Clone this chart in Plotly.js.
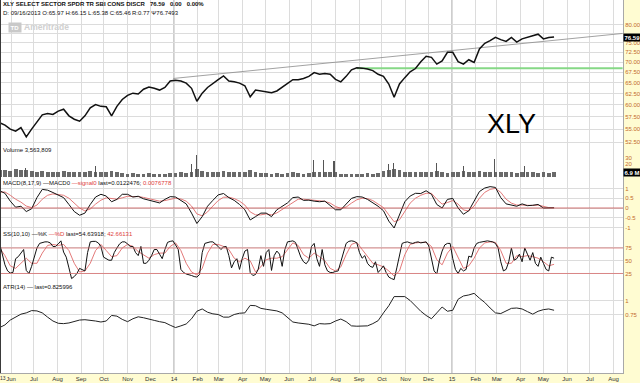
<!DOCTYPE html>
<html><head><meta charset="utf-8">
<script src="https://cdn.plot.ly/plotly-3.0.1.min.js"></script>
<style>html,body{margin:0;padding:0;background:#fff}#chart{width:640px;height:383px}</style>
</head><body><div id="chart"></div>
<script>
// ---------- DATA ----------
const weekDates = [
'2013-05-17','2013-05-24','2013-05-31','2013-06-07','2013-06-14','2013-06-21','2013-06-28','2013-07-05','2013-07-12','2013-07-19',
'2013-07-26','2013-08-02','2013-08-09','2013-08-16','2013-08-23','2013-08-30','2013-09-06','2013-09-13','2013-09-20','2013-09-27',
'2013-10-04','2013-10-11','2013-10-18','2013-10-25','2013-11-01','2013-11-08','2013-11-15','2013-11-22','2013-11-29','2013-12-06',
'2013-12-13','2013-12-20','2013-12-27','2014-01-03','2014-01-10','2014-01-17','2014-01-24','2014-01-31','2014-02-07','2014-02-14',
'2014-02-21','2014-02-28','2014-03-07','2014-03-14','2014-03-21','2014-03-28','2014-04-04','2014-04-11','2014-04-18','2014-04-25',
'2014-05-02','2014-05-09','2014-05-16','2014-05-23','2014-05-30','2014-06-06','2014-06-13','2014-06-20','2014-06-27','2014-07-04',
'2014-07-11','2014-07-18','2014-07-25','2014-08-01','2014-08-08','2014-08-15','2014-08-22','2014-08-29','2014-09-05','2014-09-12',
'2014-09-19','2014-09-26','2014-10-03','2014-10-10','2014-10-17','2014-10-24','2014-10-31','2014-11-07','2014-11-14','2014-11-21',
'2014-11-28','2014-12-05','2014-12-12','2014-12-19','2014-12-26','2015-01-02','2015-01-09','2015-01-16','2015-01-23','2015-01-30',
'2015-02-06','2015-02-13','2015-02-20','2015-02-27','2015-03-06','2015-03-13','2015-03-20','2015-03-27','2015-04-03','2015-04-10',
'2015-04-17','2015-04-24','2015-05-01','2015-05-08','2015-05-15'];

const priceClose = [
56.3,55.8,55.0,54.6,55.3,53.5,55.0,56.4,57.9,58.2,
58.0,58.7,59.1,57.7,57.0,56.6,57.7,59.4,60.1,59.7,
59.6,57.7,59.7,61.2,62.1,62.6,62.4,63.5,64.0,63.7,
63.3,63.9,65.4,65.6,65.4,64.9,63.7,60.8,62.6,63.9,
64.9,65.7,66.6,65.4,65.2,64.9,64.3,61.8,63.3,63.1,
62.9,62.7,63.1,63.9,64.9,65.7,65.7,66.0,66.5,67.4,
67.0,67.2,67.0,65.8,65.2,66.5,68.1,68.6,68.5,68.3,
67.9,67.0,66.5,64.7,61.7,64.7,66.2,67.6,68.4,70.1,
71.5,71.2,69.5,70.3,72.5,72.5,70.1,69.5,70.6,69.9,
73.4,74.9,75.6,76.5,75.9,75.4,76.5,75.2,76.1,76.5,
76.8,77.4,76.1,76.5,76.59];

const volumeM = [
11,12,10,13,11,12,10, 9,10,9,8,9,10,9, 8,9,8,10,9,8,9,10,8,
7,6,7,6,6,7,6,5,6,7, 7,8,7,9,13, 10,9,8,9,10,8,9,8,9,11,
8,7,7,6,7,6,7,8,7,6,7,8, 9,8,9,8, 6,6,5,6,6,7,6,7, 10,12,13,11,9,
8,9,8,8,9,10,9,7,8,9,10,9,8,10,9,8, 9,8,9,8,7,8,9,8,7,8,7,8];

const spikeDates = ['2013-06-20','2013-09-20','2014-01-24','2014-01-31','2014-07-03','2014-07-16','2014-07-30',
'2014-10-10','2014-10-16','2014-12-12','2015-01-16','2015-02-26','2015-04-06'];
const spikeVolM = [15,17,20,34,27,27,25,20,22,22,17,28,17];

const macdLine = [
0.88,0.75,0.35,0.04,0.09,-0.18,-0.04,0.53,0.95,0.91,
0.79,0.67,0.53,0.18,-0.18,-0.37,-0.26,0.18,0.56,0.70,
0.61,0.32,0.44,0.70,0.70,0.56,0.60,0.47,0.39,0.32,
0.26,0.44,0.58,0.56,0.39,0.21,-0.26,-0.79,-0.44,0.09,
0.39,0.67,0.74,0.53,0.39,0.18,-0.09,-0.61,-0.44,-0.26,
-0.26,-0.44,-0.09,0.09,0.26,0.53,0.56,0.39,0.40,0.35,
0.32,0.35,0.14,-0.09,-0.09,0.18,0.49,0.58,0.56,0.44,
0.26,0.09,-0.14,-0.67,-1.02,-0.35,0.32,0.61,0.75,0.74,
0.88,0.70,0.18,0.00,0.44,0.49,0.00,-0.32,-0.14,0.35,
0.84,1.02,1.09,1.05,0.53,0.21,0.14,0.09,0.21,0.12,
0.14,0.18,0.00,0.00,0.01];

const macdSignal = [
0.80,0.82,0.65,0.45,0.30,0.10,0.02,0.15,0.45,0.65,
0.72,0.70,0.65,0.50,0.25,0.00,-0.15,-0.05,0.20,0.40,
0.52,0.48,0.45,0.52,0.60,0.58,0.58,0.54,0.48,0.42,
0.35,0.38,0.45,0.50,0.46,0.35,0.10,-0.30,-0.40,-0.20,
0.10,0.38,0.55,0.55,0.48,0.35,0.15,-0.20,-0.35,-0.35,
-0.30,-0.35,-0.25,-0.08,0.10,0.30,0.45,0.45,0.42,0.38,
0.35,0.34,0.25,0.08,-0.02,0.05,0.25,0.42,0.50,0.48,
0.38,0.22,0.02,-0.35,-0.70,-0.60,-0.15,0.25,0.50,0.65,
0.75,0.75,0.45,0.20,0.28,0.38,0.20,-0.10,-0.15,0.10,
0.50,0.80,0.95,1.00,0.80,0.45,0.25,0.15,0.15,0.13,
0.13,0.15,0.08,0.02,0.01];

// %K read twice a week (Friday, then the following Tuesday)
const ssK = [
84,61,42,30,26,27,54,58,66,72, 31,25,39,60,75,84,86,87,87,85,
78,78,83,89,67,57,36,15,19,25, 35,32,30,66,87,88,88,85,78,57,
54,51,51,66,75,83,87,87,83,78, 78,66,60,78,45,45,51,60,72,72,
63,54,72,86,88,89,81,72,33,27, 24,23,21,19,18,23,66,84,86,87,
87,83,78,72,77,78,60,36,48,54, 33,54,69,72,27,21,23,33,60,39,
66,72,31,60,69,63,39,72,87,88, 89,86,72,57,48,44,51,78,84,54,
39,72,42,30,27,27,29,30,48,66, 84,88,89,88,85,66,55,60,45,39,
37,48,27,33,40,27,18,15,13,36, 60,84,86,87,85,84,86,87,85,86,
87,79,57,30,24,51,69,81,84,84, 54,33,25,35,30,33,59,57,75,84,
86,87,88,89,88,87,84,75,48,30, 33,48,75,51,54,63,48,75,63,51,
66,45,39,57,45,33,30,57,55];

const ssD = [
75,60,40,35,45,55,45,45,65,80, 82,80,82,70,45,28,30,45,70,82,
70,58,60,75,82,78,68,62,55,62, 65,65,78,85,70,45,28,22,35,65,
82,82,78,72,55,48,55,50,28,38, 52,55,55,58,72,85,80,62,55,65,
58,50,35,30,38,62,82,86,72,58, 45,42,38,30,20,30,62,82,85,86,
86,78,52,42,65,78,55,35,40,55, 75,85,87,86,70,45,45,60,58,60,
58,55,48,40,43];

const atr = [
0.517,0.564,0.651,0.709,0.756,0.779,0.820,0.814,0.779,0.703,
0.634,0.593,0.587,0.599,0.622,0.651,0.657,0.651,0.634,0.616,
0.634,0.733,0.721,0.663,0.622,0.674,0.709,0.692,0.663,0.645,
0.622,0.605,0.558,0.517,0.547,0.581,0.674,0.808,0.849,0.791,
0.762,0.750,0.703,0.703,0.750,0.773,0.779,0.913,0.907,0.860,
0.843,0.826,0.814,0.779,0.692,0.616,0.599,0.587,0.576,0.547,
0.587,0.581,0.587,0.634,0.669,0.622,0.547,0.541,0.541,0.547,
0.587,0.640,0.779,0.907,1.070,1.070,1.070,1.000,0.895,0.808,
0.733,0.674,0.779,0.884,0.808,0.826,1.023,1.081,1.099,1.128,
1.041,0.965,0.866,0.779,0.767,0.820,0.860,0.866,0.849,0.802,
0.756,0.808,0.837,0.849,0.826];

const trendDates = ['2013-12-31','2015-08-13'];
const trendValues = [66.0, 77.6];
const supportDates = ['2014-08-29','2015-08-13'];
const supportValues = [68.45, 68.45];
const lastPrice = 76.59;
const lastVolumeM = 6.9;

const priceTicks = [52.5,55,57.5,60,62.5,65,67.5,70,72.5,75,77.5,80];
const priceTickText = ['52.50','55.00','57.50','60.00','62.50','65.00','67.50','70.00','72.50','75.00','','80.00'];
const volumeTicks = [10, 20, 30];
const volumeTickText = ['', '20', '30'];
const monthTicks = ['2013-06-01','2013-07-01','2013-08-01','2013-09-01','2013-10-01','2013-11-01','2013-12-01',
'2014-01-01','2014-02-01','2014-03-01','2014-04-01','2014-05-01','2014-06-01','2014-07-01','2014-08-01','2014-09-01','2014-10-01','2014-11-01','2014-12-01',
'2015-01-01','2015-02-01','2015-03-01','2015-04-01','2015-05-01','2015-06-01','2015-07-01','2015-08-01'];
const monthLabels = ['Jun','Jul','Aug','Sep','Oct','Nov','Dec','14','Feb','Mar','Apr','May','Jun','Jul','Aug','Sep','Oct','Nov','Dec',
'15','Feb','Mar','Apr','May','Jun','Jul','Aug'];
const yearLines = ['2014-01-01','2015-01-01'];

// ---------- LAYOUT ----------
const W = 640, H = 383, ML = 0, MR = 17, MT = 0, MB = 10;
const PW = W - ML - MR, PH = H - MT - MB;
const px = x => x / PW;            // pixel -> paper x
const py = y => 1 - y / PH;        // pixel -> paper y
const xRange = ['2013-05-17 12:00', '2015-08-13 12:00'];

// semi-weekly dates for %K: each Friday followed by the next Tuesday
const ssDates = [];
weekDates.forEach((d, i) => {
  ssDates.push(d);
  if (i < weekDates.length - 1) {
    const t = new Date(d + 'T00:00:00Z').getTime() + 3.5 * 86400000;
    ssDates.push(new Date(t).toISOString().slice(0, 16).replace('T', ' '));
  }
});

const RED = '#E06A6A';
const AXC = '#C4692C';
const GRID = '#DCDCDC';
const tf = {family: 'Liberation Sans, Arial, sans-serif', size: 6, color: AXC};
const DAY = 86400000;

const traces = [
  {x: trendDates, y: trendValues, type: 'scatter', mode: 'lines', line: {color: '#8a8a8a', width: 0.8}, xaxis: 'x', yaxis: 'y'},
  {x: supportDates, y: supportValues, type: 'scatter', mode: 'lines', line: {color: '#86D886', width: 2}, xaxis: 'x', yaxis: 'y'},
  {x: weekDates, y: priceClose, type: 'scatter', mode: 'lines', line: {color: '#111', width: 1.5}, xaxis: 'x', yaxis: 'y'},
  {x: weekDates, y: volumeM, type: 'bar', width: 5 * DAY, marker: {color: '#6a6a6a'}, xaxis: 'x', yaxis: 'y2'},
  {x: spikeDates, y: spikeVolM, type: 'bar', width: 1.4 * DAY, marker: {color: '#555'}, xaxis: 'x', yaxis: 'y2'},
  {x: weekDates, y: macdSignal, type: 'scatter', mode: 'lines', line: {color: RED, width: 0.9}, xaxis: 'x', yaxis: 'y3'},
  {x: weekDates, y: macdLine, type: 'scatter', mode: 'lines', line: {color: '#111', width: 1}, xaxis: 'x', yaxis: 'y3'},
  {x: weekDates, y: ssD, type: 'scatter', mode: 'lines', line: {color: RED, width: 0.9}, xaxis: 'x', yaxis: 'y4'},
  {x: ssDates, y: ssK, type: 'scatter', mode: 'lines', line: {color: '#111', width: 1}, xaxis: 'x', yaxis: 'y4'},
  {x: weekDates, y: atr, type: 'scatter', mode: 'lines', line: {color: '#222', width: 1}, xaxis: 'x', yaxis: 'y5'}
];

const yBase = {side: 'right', anchor: 'x', ticks: '', showline: true, linecolor: '#A8A8A8', linewidth: 1,
  gridcolor: GRID, gridwidth: 1, tickfont: tf, zeroline: false, fixedrange: true};

const layout = {
  width: W, height: H,
  margin: {l: ML, r: MR, t: MT, b: MB, pad: 0},
  paper_bgcolor: '#FFFCD2', plot_bgcolor: '#FFFFFF',
  showlegend: false, hovermode: false, barmode: 'overlay', bargap: 0,
  xaxis: {type: 'date', range: xRange, anchor: 'y5', tickvals: monthTicks, ticktext: monthLabels,
    ticks: '', showgrid: true, gridcolor: GRID, showline: true, linecolor: '#A8A8A8',
    tickfont: {family: 'Liberation Sans, Arial, sans-serif', size: 6, color: '#333'}, zeroline: false, fixedrange: true},
  yaxis: Object.assign({}, yBase, {domain: [py(147), 1], type: 'log',
    range: [1.7125, 1.9421], tickvals: priceTicks, ticktext: priceTickText}),
  yaxis2: Object.assign({}, yBase, {domain: [py(178), py(147)], range: [-0.8, 46.2],
    tickvals: volumeTicks, ticktext: volumeTickText, showgrid: false}),
  yaxis3: Object.assign({}, yBase, {domain: [py(231), py(178)], range: [-1.173, 1.531],
    tickvals: [-1, -0.5, 0, 0.5, 1], ticktext: ['-1', '-0.5', '0', '0.5', '1']}),
  yaxis4: Object.assign({}, yBase, {domain: [py(284), py(231)], range: [4.4, 108.3],
    tickvals: [25, 50, 75], ticktext: ['25', '50', '75']}),
  yaxis5: Object.assign({}, yBase, {domain: [0, py(284)], range: [-0.295, 1.295],
    tickvals: [0.75, 1], ticktext: ['0.75', '1']}),
  shapes: [
    ...yearLines.map(d => ({type: 'line', xref: 'x', yref: 'paper', x0: d, x1: d, y0: 0, y1: 1,
      line: {color: '#9a9a9a', width: 1}, layer: 'below'})),
    {type: 'line', xref: 'paper', yref: 'y3', x0: 0, x1: 1, y0: 0, y1: 0, line: {color: '#C85050', width: 0.8}},
    {type: 'line', xref: 'paper', yref: 'y4', x0: 0, x1: 1, y0: 75, y1: 75, line: {color: '#D87070', width: 0.8}},
    {type: 'line', xref: 'paper', yref: 'y4', x0: 0, x1: 1, y0: 25, y1: 25, line: {color: '#D87070', width: 0.8}},
    {type: 'line', xref: 'paper', yref: 'paper', x0: 0, x1: 0, y0: 0, y1: 1, line: {color: '#3a3a3a', width: 2}}
  ],
  annotations: []
};

const small = (t, x, y, opts) => Object.assign({text: t, xref: 'paper', yref: 'paper', x: px(x), y: py(y),
  xanchor: 'left', yanchor: 'middle', showarrow: false,
  font: {family: 'Liberation Sans Narrow, Liberation Sans, Arial, sans-serif', size: 6, color: '#111'}}, opts || {});

layout.annotations.push(
  small('<b>XLY SELECT SECTOR SPDR TR SBI CONS DISCR</b>&nbsp;&nbsp;&nbsp;<b>76.59</b>&nbsp;&nbsp;&nbsp;<b>0.00</b>&nbsp;&nbsp;&nbsp;<b>0.00%</b>', 1, 4),
  small('D: 09/16/2013 O:65.97 H:66.15 L:65.38 C:65.46', 1, 13),
  small('R:0.77 &#936;76.7493', 130, 13),
  small('<b>TD</b>', 8, 27.5, {font: {family: 'Liberation Sans, Arial', size: 6, color: '#fff'}, bgcolor: '#C9C9C9', borderpad: 1.5}),
  small('<b>Ameritrade</b>', 22, 27.5, {font: {family: 'Liberation Sans, Arial', size: 8.5, color: '#D0D0D0'}}),
  small('Volume 3,563,809', 1, 150),
  small('MACD(8,17,9) —MACD0 <span style="color:#E04040">—signal0</span> last=0.0122476; <span style="color:#E04040">0.0076778</span>', 1, 183),
  small('SS(10,10) —%K <span style="color:#E04040">—%D</span> last=54.63918; <span style="color:#E04040">42.66131</span>', 1, 234),
  small('ATR(14) — last=0.825996', 1, 287),
  small('13', -1, 378.5, {borderpad: 0, font: {family: 'Liberation Sans Narrow, Liberation Sans, Arial', size: 5, color: '#333'}}),
  {text: 'XLY', xref: 'paper', yref: 'paper', x: px(511), y: py(124), xanchor: 'center', yanchor: 'middle',
    showarrow: false, font: {family: 'Liberation Sans, Arial, sans-serif', size: 27, color: '#000'}},
  {text: '<b>' + lastPrice.toFixed(2) + '</b>', xref: 'paper', yref: 'y', x: 1, y: Math.log10(lastPrice),
    xanchor: 'left', yanchor: 'middle', showarrow: false, bgcolor: '#000', borderpad: 0.5,
    font: {family: 'Liberation Sans, Arial', size: 6, color: '#fff'}},
  {text: '<b>' + lastVolumeM.toFixed(1) + ' M</b>', xref: 'paper', yref: 'y2', x: 1, y: lastVolumeM,
    xanchor: 'left', yanchor: 'middle', showarrow: false, bgcolor: '#000', borderpad: 0.5,
    font: {family: 'Liberation Sans, Arial', size: 6, color: '#fff'}}
);

Plotly.newPlot('chart', traces, layout, {staticPlot: true, displayModeBar: false});
</script>
</body></html>
